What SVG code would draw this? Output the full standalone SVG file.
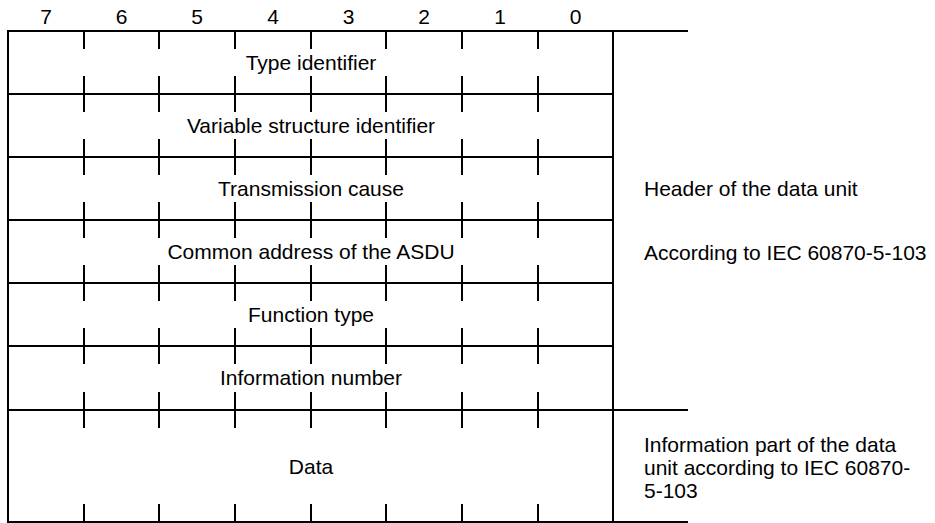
<svg xmlns="http://www.w3.org/2000/svg" width="935" height="523" viewBox="0 0 935 523">
<style>
.ln{stroke:#000;stroke-width:2;fill:none}
.t{font-family:"Liberation Sans",Arial,sans-serif;font-size:21px;fill:#000}
.c{text-anchor:middle}
</style>
<rect width="935" height="523" fill="#fff"/>
<g id="bits" class="t c">
<text x="46" y="24">7</text>
<text x="121.5" y="24">6</text>
<text x="197" y="24">5</text>
<text x="273" y="24">4</text>
<text x="348.5" y="24">3</text>
<text x="424" y="24">2</text>
<text x="500" y="24">1</text>
<text x="575.5" y="24">0</text>
</g>
<g id="connectors" class="ln">
<path d="M8,31H688M8,410H688M8,522H688"/>
<path d="M8,94H613M8,157H613M8,220H613M8,283H613M8,346H613"/>
<path d="M8,30V523M613,31V522"/>
<path d="M84,31V49M159,31V49M235,31V49M311,31V49M386,31V49M462,31V49M538,31V49"/>
<path d="M84,76V112M159,76V112M235,76V112M311,76V112M386,76V112M462,76V112M538,76V112"/>
<path d="M84,139V175M159,139V175M235,139V175M311,139V175M386,139V175M462,139V175M538,139V175"/>
<path d="M84,202V238M159,202V238M235,202V238M311,202V238M386,202V238M462,202V238M538,202V238"/>
<path d="M84,265V301M159,265V301M235,265V301M311,265V301M386,265V301M462,265V301M538,265V301"/>
<path d="M84,328V364M159,328V364M235,328V364M311,328V364M386,328V364M462,328V364M538,328V364"/>
<path d="M84,392V428M159,392V428M235,392V428M311,392V428M386,392V428M462,392V428M538,392V428"/>
<path d="M84,504V522M159,504V522M235,504V522M311,504V522M386,504V522M462,504V522M538,504V522"/>
</g>
<g id="row-type" class="t c"><text x="311" y="70">Type identifier</text></g>
<g id="row-vsi" class="t c"><text x="311" y="133">Variable structure identifier</text></g>
<g id="row-cause" class="t c"><text x="311" y="196">Transmission cause</text></g>
<g id="row-addr" class="t c"><text x="311" y="259">Common address of the ASDU</text></g>
<g id="row-func" class="t c"><text x="311" y="322">Function type</text></g>
<g id="row-info" class="t c"><text x="311" y="385">Information number</text></g>
<g id="row-data" class="t c"><text x="311" y="474">Data</text></g>
<g id="note-header" class="t"><text x="644" y="196">Header of the data unit</text></g>
<g id="note-iec" class="t"><text x="644" y="260">According to IEC 60870-5-103</text></g>
<g id="note-info" class="t">
<text x="644" y="452">Information part of the data</text>
<text x="644" y="475">unit according to IEC 60870-</text>
<text x="644" y="498">5-103</text>
</g>
</svg>
